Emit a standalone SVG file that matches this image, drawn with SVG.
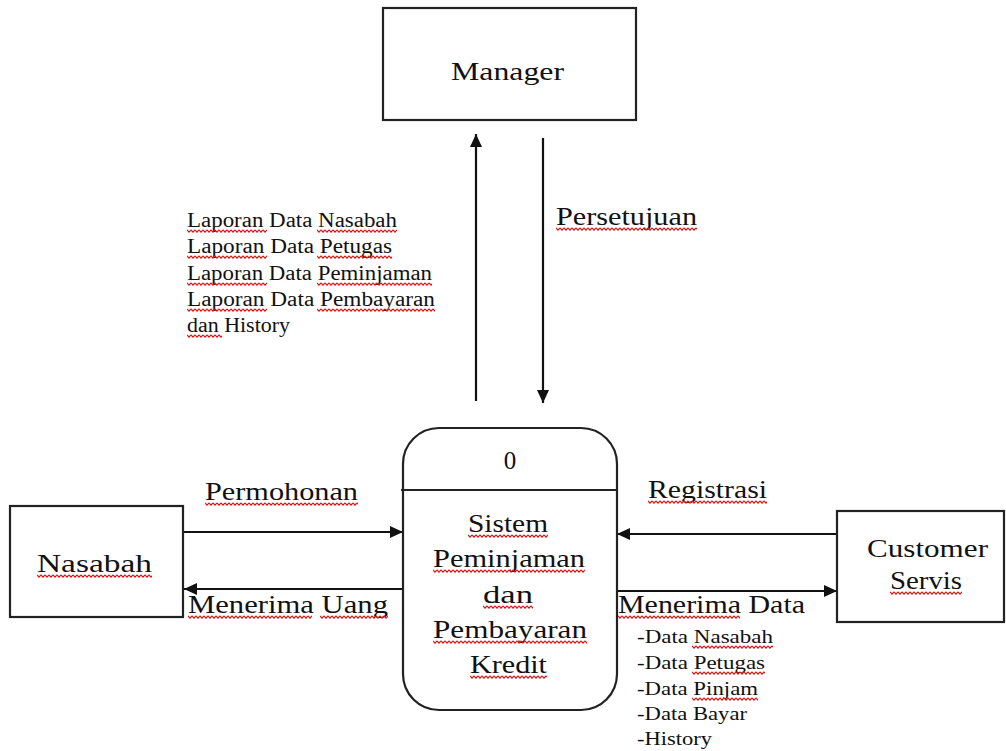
<svg xmlns="http://www.w3.org/2000/svg" width="1006" height="751" viewBox="0 0 1006 751">
<style>
.box{fill:#fff;stroke:#222;stroke-width:2.2}
.flow{stroke:#111;stroke-width:2.2;fill:none}
text{font-family:"Liberation Serif","Times New Roman",serif;fill:#111}
.big{font-size:25px}
.mid{font-size:20px}
.sm{font-size:19px}
</style>
<defs>
<marker id="arr" markerUnits="userSpaceOnUse" markerWidth="14" markerHeight="12" viewBox="0 0 14 12" refX="13" refY="6" orient="auto">
<path d="M0,0 L13,6 L0,12 z" fill="#111"/>
</marker>
<pattern id="sq" patternUnits="userSpaceOnUse" width="4" height="4">
<path d="M0,0.8 L2,3.2 L4,0.8" stroke="#e31010" stroke-width="1.1" fill="none"/>
</pattern>
</defs>
<rect width="1006" height="751" fill="#fff"/>

<g id="connectors">
<line class="flow" x1="476" y1="401" x2="476" y2="134" marker-end="url(#arr)"/>
<line class="flow" x1="543" y1="138" x2="543" y2="403" marker-end="url(#arr)"/>
<line class="flow" x1="184" y1="532" x2="403" y2="532" marker-end="url(#arr)"/>
<line class="flow" x1="403" y1="589" x2="184" y2="589" marker-end="url(#arr)"/>
<line class="flow" x1="837" y1="534" x2="617" y2="534" marker-end="url(#arr)"/>
<line class="flow" x1="617" y1="591" x2="837" y2="591" marker-end="url(#arr)"/>
</g>

<g id="manager">
<rect class="box" x="383" y="8" width="253" height="112"/>
<text class="big" x="451" y="80" textLength="113" lengthAdjust="spacingAndGlyphs">Manager</text>
</g>

<g id="nasabah">
<rect class="box" x="10" y="506" width="173" height="111"/>
<text class="big" x="37" y="572" textLength="115" lengthAdjust="spacingAndGlyphs">Nasabah</text>
</g>

<g id="customer-servis">
<rect class="box" x="837" y="511" width="167" height="111"/>
<text class="big" x="867" y="557" textLength="121" lengthAdjust="spacingAndGlyphs">Customer</text>
<text class="big" x="890" y="589" textLength="72" lengthAdjust="spacingAndGlyphs">Servis</text>
</g>

<g id="process-0">
<rect class="box" x="403" y="428" width="214" height="282" rx="36" ry="36"/>
<line x1="401" y1="490" x2="617" y2="490" stroke="#222" stroke-width="2.2"/>
<text class="big" x="510" y="469" text-anchor="middle">0</text>
<text class="big" x="468" y="532" textLength="80" lengthAdjust="spacingAndGlyphs">Sistem</text>
<text class="big" x="433" y="567" textLength="152" lengthAdjust="spacingAndGlyphs">Peminjaman</text>
<text class="big" x="483" y="603" textLength="50" lengthAdjust="spacingAndGlyphs">dan</text>
<text class="big" x="433" y="638" textLength="154" lengthAdjust="spacingAndGlyphs">Pembayaran</text>
<text class="big" x="470" y="673" textLength="77" lengthAdjust="spacingAndGlyphs">Kredit</text>
</g>

<g id="labels">
<text class="mid" x="187" y="227" textLength="210" lengthAdjust="spacingAndGlyphs">Laporan Data Nasabah</text>
<text class="mid" x="187" y="253" textLength="205" lengthAdjust="spacingAndGlyphs">Laporan Data Petugas</text>
<text class="mid" x="187" y="280" textLength="245" lengthAdjust="spacingAndGlyphs">Laporan Data Peminjaman</text>
<text class="mid" x="187" y="306" textLength="248" lengthAdjust="spacingAndGlyphs">Laporan Data Pembayaran</text>
<text class="mid" x="187" y="332" textLength="103" lengthAdjust="spacingAndGlyphs">dan History</text>
<text class="big" x="556" y="225" textLength="141" lengthAdjust="spacingAndGlyphs">Persetujuan</text>
<text class="big" x="205" y="500" textLength="153" lengthAdjust="spacingAndGlyphs">Permohonan</text>
<text class="big" x="188" y="613" textLength="200" lengthAdjust="spacingAndGlyphs">Menerima Uang</text>
<text class="big" x="648" y="498" textLength="119" lengthAdjust="spacingAndGlyphs">Registrasi</text>
<text class="big" x="618" y="613" textLength="187" lengthAdjust="spacingAndGlyphs">Menerima Data</text>
<text class="sm" x="637" y="643" textLength="136" lengthAdjust="spacingAndGlyphs">-Data Nasabah</text>
<text class="sm" x="637" y="669" textLength="128" lengthAdjust="spacingAndGlyphs">-Data Petugas</text>
<text class="sm" x="637" y="695" textLength="121" lengthAdjust="spacingAndGlyphs">-Data Pinjam</text>
<text class="sm" x="637" y="720" textLength="110" lengthAdjust="spacingAndGlyphs">-Data Bayar</text>
<text class="sm" x="637" y="745" textLength="75" lengthAdjust="spacingAndGlyphs">-History</text>
</g>

<g id="spellcheck-underlines" fill="url(#sq)">
<rect transform="translate(187,229)" width="80" height="4"/>
<rect transform="translate(317,229)" width="80" height="4"/>
<rect transform="translate(187,255)" width="80" height="4"/>
<rect transform="translate(317,255)" width="75" height="4"/>
<rect transform="translate(187,282)" width="80" height="4"/>
<rect transform="translate(317,282)" width="115" height="4"/>
<rect transform="translate(187,308)" width="80" height="4"/>
<rect transform="translate(317,308)" width="118" height="4"/>
<rect transform="translate(187,334)" width="35" height="4"/>
<rect transform="translate(556,227)" width="141" height="4"/>
<rect transform="translate(205,502)" width="153" height="4"/>
<rect transform="translate(37,574)" width="115" height="4"/>
<rect transform="translate(188,615)" width="124" height="4"/>
<rect transform="translate(320,615)" width="68" height="4"/>
<rect transform="translate(648,500)" width="119" height="4"/>
<rect transform="translate(890,591)" width="72" height="4"/>
<rect transform="translate(618,615)" width="122" height="4"/>
<rect transform="translate(692,645)" width="81" height="4"/>
<rect transform="translate(692,671)" width="73" height="4"/>
<rect transform="translate(692,697)" width="66" height="4"/>
<rect transform="translate(468,534)" width="80" height="4"/>
<rect transform="translate(433,569)" width="152" height="4"/>
<rect transform="translate(483,605)" width="50" height="4"/>
<rect transform="translate(433,640)" width="154" height="4"/>
<rect transform="translate(470,675)" width="77" height="4"/>
</g>
</svg>
